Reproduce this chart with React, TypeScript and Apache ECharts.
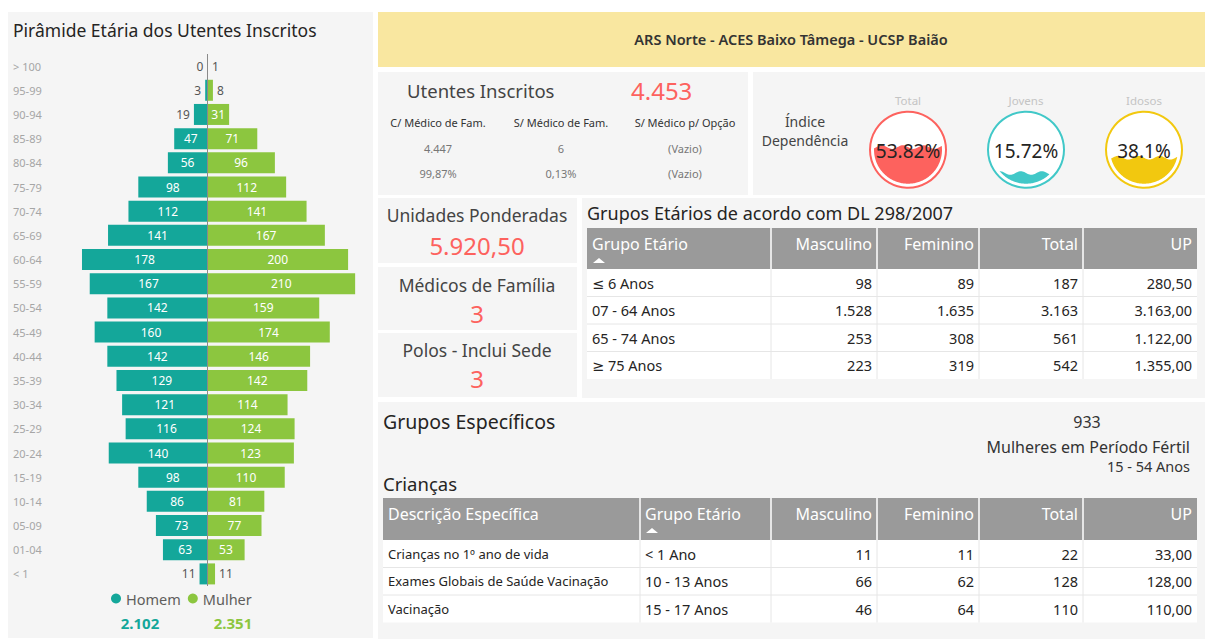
import React, { useEffect, useRef } from 'react';
import * as echarts from 'echarts';

const FONT = "'Noto Sans', 'DejaVu Sans', sans-serif";

// ---------- Pyramid data ----------
const ageGroups = ['> 100', '95-99', '90-94', '85-89', '80-84', '75-79', '70-74', '65-69', '60-64', '55-59', '50-54', '45-49', '40-44', '35-39', '30-34', '25-29', '20-24', '15-19', '10-14', '05-09', '01-04', '< 1'];
const homem = [0, 3, 19, 47, 56, 98, 112, 141, 178, 167, 142, 160, 142, 129, 121, 116, 140, 98, 86, 73, 63, 11];
const mulher = [1, 8, 31, 71, 96, 112, 141, 167, 200, 210, 159, 174, 146, 142, 114, 124, 123, 110, 81, 77, 53, 11];
const seriesNames = ['Homem', 'Mulher'];
const pyramidTitle = 'Pirâmide Etária dos Utentes Inscritos';

// ---------- Header / KPIs ----------
const headerTitle = 'ARS Norte - ACES Baixo Tâmega - UCSP Baião';
const utentesTitle = 'Utentes Inscritos';
const utentesTotal = 4453;
const utentesCols = ['C/ Médico de Fam.', 'S/ Médico de Fam.', 'S/ Médico p/ Opção'];
const utentesCounts = ['4.447', '6', '(Vazio)'];
const utentesPct = ['99,87%', '0,13%', '(Vazio)'];

const dependTitle = ['Índice', 'Dependência'];
const dependLabels = ['Total', 'Jovens', 'Idosos'];
const dependValues = [53.82, 15.72, 38.1];

const kpiTitles = ['Unidades Ponderadas', 'Médicos de Família', 'Polos - Inclui Sede'];
const kpiValues = ['5.920,50', '3', '3'];

// ---------- Grupos Etários table ----------
const etariosTitle = 'Grupos Etários de acordo com DL 298/2007';
const etariosHeaders = ['Grupo Etário', 'Masculino', 'Feminino', 'Total', 'UP'];
const etariosGroups = ['≤ 6 Anos', '07 - 64 Anos', '65 - 74 Anos', '≥ 75 Anos'];
const etariosMasc = [98, 1528, 253, 223];
const etariosFem = [89, 1635, 308, 319];
const etariosTotal = [187, 3163, 561, 542];
const etariosUP = [280.5, 3163, 1122, 1355];

// ---------- Grupos Específicos ----------
const especTitle = 'Grupos Específicos';
const fertilCount = 933;
const fertilLabel = 'Mulheres em Período Fértil';
const fertilRange = '15 - 54 Anos';
const criancasTitle = 'Crianças';
const criancasHeaders = ['Descrição Específica', 'Grupo Etário', 'Masculino', 'Feminino', 'Total', 'UP'];
const criancasDesc = ['Crianças no 1º ano de vida', 'Exames Globais de Saúde Vacinação', 'Vacinação'];
const criancasGroups = ['< 1 Ano', '10 - 13 Anos', '15 - 17 Anos'];
const criancasMasc = [11, 66, 46];
const criancasFem = [11, 62, 64];
const criancasTotal = [22, 128, 110];
const criancasUP = [33, 128, 110];

// ---------- Styles ----------
const C_HOMEM = '#14A79A';
const C_MULHER = '#8CC63F';
const RED = '#FD625E';
const dependColors = ['#FD625E', '#41C8C8', '#F2C80F'];
const PANEL = '#F5F5F5';
const DARK = '#252423';

function fmt(n: number, dec = 0) {
  const fixed = n.toFixed(dec);
  const [i, f] = fixed.split('.');
  const g = i.replace(/\B(?=(\d{3})+(?!\d))/g, '.');
  return f ? g + ',' + f : g;
}
const sum = (a: number[]) => a.reduce((s, v) => s + v, 0);

const T = (text: string, x: number, y: number, size: number, fill: string, align = 'left', weight: any = 'normal') => ({
  type: 'text', x, y, silent: true, z: 5,
  style: { text, fill, fontSize: size, fontFamily: FONT, fontWeight: weight, align, verticalAlign: 'middle' },
});
const R = (x: number, y: number, w: number, h: number, fill: string) => ({
  type: 'rect', silent: true, z: 0, shape: { x, y, width: w, height: h }, style: { fill },
});
const L = (x1: number, y1: number, x2: number, y2: number, stroke: string, lw = 1) => ({
  type: 'line', silent: true, z: 1, shape: { x1, y1, x2, y2 }, style: { stroke, lineWidth: lw },
});

function buildTable(edges: number[], top: number, headH: number, rowH: number, headers: string[], rows: string[][], leftCols: number, sortCol: number, bodySizes: number[], headSize: number) {
  const els: any[] = [];
  const x0 = edges[0];
  const x1 = edges[edges.length - 1];
  const nR = rows.length;
  els.push(R(x0, top, x1 - x0, headH, '#9A9A9A'));
  els.push(R(x0, top + headH, x1 - x0, rowH * nR, '#FFFFFF'));
  for (let c = 1; c < edges.length - 1; c++) {
    els.push(L(edges[c], top, edges[c], top + headH, '#FFFFFF', 1.5));
    els.push(L(edges[c], top + headH, edges[c], top + headH + rowH * nR, '#E6E6E6', 1));
  }
  for (let r = 1; r < nR; r++) {
    els.push(L(x0, top + headH + rowH * r, x1, top + headH + rowH * r, '#E6E6E6', 1));
  }
  headers.forEach((h, c) => {
    const left = c < leftCols;
    els.push(T(h, left ? edges[c] + 5 : edges[c + 1] - 5, top + 16, headSize, '#FFFFFF', left ? 'left' : 'right'));
  });
  const sc = edges[sortCol];
  els.push({
    type: 'polygon', silent: true, z: 5,
    shape: { points: [[sc + 6, top + 35], [sc + 12, top + 30], [sc + 18, top + 35]] },
    style: { fill: '#FFFFFF' },
  });
  rows.forEach((row, r) =>
    row.forEach((cell, c) => {
      const left = c < leftCols;
      els.push(T(cell, left ? edges[c] + 5 : edges[c + 1] - 5, top + headH + rowH * (r + 0.5), bodySizes[c], DARK, left ? 'left' : 'right'));
    })
  );
  return els;
}

function buildOption() {
  const graphics: any[] = [];
  // panels
  graphics.push(R(8, 12, 365, 626, PANEL));
  graphics.push(R(378, 12, 827, 55, '#F9E7A0'));
  graphics.push(R(378, 72, 370, 123, PANEL));
  graphics.push(R(753, 72, 452, 123, PANEL));
  graphics.push(R(378, 198, 199, 65, PANEL));
  graphics.push(R(378, 267, 199, 63, PANEL));
  graphics.push(R(378, 333, 199, 64, PANEL));
  graphics.push(R(582, 198, 623, 200, PANEL));
  graphics.push(R(378, 402, 827, 237, PANEL));

  // pyramid texts
  graphics.push(T(pyramidTitle, 13, 30, 17.5, DARK));
  graphics.push(T(fmt(sum(homem)), 140, 623, 15, C_HOMEM, 'center', 'bold'));
  graphics.push(T(fmt(sum(mulher)), 233, 623, 15, C_MULHER, 'center', 'bold'));

  // header
  graphics.push(T(headerTitle, 791, 39, 14.5, '#333333', 'center', 600));

  // utentes
  graphics.push(T(utentesTitle, 407, 90, 18.5, '#444444'));
  graphics.push(T(fmt(utentesTotal), 631, 90, 24, RED));
  const uc = [438, 561, 685];
  utentesCols.forEach((c, i) => {
    graphics.push(T(c, uc[i], 122, 11, '#333333', 'center'));
    graphics.push(T(utentesCounts[i], uc[i], 148, 11, '#777777', 'center'));
    graphics.push(T(utentesPct[i], uc[i], 173, 11, '#777777', 'center'));
  });

  // indice dependencia
  graphics.push(T(dependTitle[0], 805, 121, 14, '#444444', 'center'));
  graphics.push(T(dependTitle[1], 805, 140, 14, '#444444', 'center'));

  // kpis
  const ky = [[215, 245], [285, 313], [350, 378]];
  kpiTitles.forEach((t, i) => {
    graphics.push(T(t, 477, ky[i][0], 17.5, '#444444', 'center'));
    graphics.push(T(kpiValues[i], 477, ky[i][1], 24, RED, 'center'));
  });

  // grupos etarios
  graphics.push(T(etariosTitle, 587, 213, 18, DARK));
  const etRows = etariosGroups.map((g, i) => [g, fmt(etariosMasc[i]), fmt(etariosFem[i]), fmt(etariosTotal[i]), fmt(etariosUP[i], 2)]);
  graphics.push(...buildTable([587, 771, 877, 979, 1083, 1197], 228, 41, 27.5, etariosHeaders, etRows, 1, 0, [14.5, 14.5, 14.5, 14.5, 14.5], 16));

  // grupos especificos
  graphics.push(T(especTitle, 383, 421, 19.5, DARK));
  graphics.push(T(fmt(fertilCount), 1087, 422, 16, '#333333', 'center'));
  graphics.push(T(fertilLabel, 1190, 447, 16, '#333333', 'right'));
  graphics.push(T(fertilRange, 1190, 466, 14.5, '#333333', 'right'));
  graphics.push(T(criancasTitle, 383, 483, 18.5, DARK));
  const crRows = criancasDesc.map((d, i) => [d, criancasGroups[i], fmt(criancasMasc[i]), fmt(criancasFem[i]), fmt(criancasTotal[i]), fmt(criancasUP[i], 2)]);
  graphics.push(...buildTable([383, 640, 771, 877, 979, 1083, 1197], 498, 42, 27.5, criancasHeaders, crRows, 2, 1, [13, 14.5, 14.5, 14.5, 14.5, 14.5], 16));

  const OUT = 25;
  const labelBase = {
    show: true, position: 'inside', color: '#FFFFFF', fontSize: 12, fontFamily: FONT,
    formatter: (p: any) => String(Math.abs(p.value)),
  };

  return {
    animation: false,
    backgroundColor: '#FFFFFF',
    textStyle: { fontFamily: FONT },
    legend: {
      data: seriesNames, icon: 'circle', left: 106, top: 586, itemWidth: 10, itemHeight: 10, itemGap: 7,
      textStyle: { fontSize: 14.5, color: '#605E5C', fontFamily: FONT },
    },
    grid: [
      { left: 31.3, top: 54, width: 352, height: 532 },
      { left: 849, top: 115.7, width: 354, height: 68 },
    ],
    xAxis: [
      { type: 'value', gridIndex: 0, min: -250, max: 250, show: false },
      {
        type: 'category', gridIndex: 1, data: dependLabels, position: 'top',
        axisLine: { show: false }, axisTick: { show: false },
        axisLabel: { color: '#C4C4C4', fontSize: 11.5, margin: 9, fontFamily: FONT },
      },
    ],
    yAxis: [
      {
        type: 'category', gridIndex: 0, data: ageGroups, inverse: true,
        axisLine: { show: false }, axisTick: { show: false }, splitLine: { show: false },
        axisLabel: { align: 'left', margin: 18.3, color: '#A6A6A6', fontSize: 11, fontFamily: FONT },
      },
      { type: 'value', gridIndex: 1, min: 0, max: 100, show: false },
    ],
    graphic: { elements: graphics },
    series: [
      {
        name: seriesNames[0], type: 'bar', xAxisIndex: 0, yAxisIndex: 0, stack: 'p', barWidth: 21,
        itemStyle: { color: C_HOMEM }, label: labelBase, z: 3,
        data: homem.map((v) => ({ value: -v, label: v < OUT ? { position: 'left', color: '#555555', distance: 4 } : {} })),
      },
      {
        name: seriesNames[1], type: 'bar', xAxisIndex: 0, yAxisIndex: 0, stack: 'p', barWidth: 21,
        itemStyle: { color: C_MULHER }, label: labelBase, z: 3,
        data: mulher.map((v) => ({ value: v, label: v < OUT ? { position: 'right', color: '#555555', distance: 4 } : {} })),
        markLine: {
          silent: true, symbol: 'none', label: { show: false },
          lineStyle: { color: '#8A8A8A', width: 1, type: 'solid' },
          data: [{ xAxis: 0 }],
        },
      },
      {
        type: 'custom', xAxisIndex: 1, yAxisIndex: 1, coordinateSystem: 'cartesian2d', clip: false, z: 3,
        data: dependValues.map((v, i) => [i, v]),
        renderItem: (params: any, api: any) => {
          const idx = api.value(0);
          const v = api.value(1);
          const pTop = api.coord([idx, 100]);
          const pBot = api.coord([idx, 0]);
          const cx = pTop[0];
          const r = (pBot[1] - pTop[1]) / 2;
          const cy = pTop[1] + r;
          const level = api.coord([idx, v])[1];
          const color = dependColors[params.dataIndex];
          const N = 120;
          const topPts: number[][] = [];
          const botPts: number[][] = [];
          for (let k = 0; k <= N; k++) {
            const t = (Math.PI * k) / N;
            const x = cx - r * Math.cos(t);
            const half = Math.sqrt(Math.max(0, r * r - (x - cx) * (x - cx)));
            const yb = cy + half;
            const yt = cy - half;
            const yw = level + 1.8 * Math.sin(((x - cx) / 21) * 2 * Math.PI);
            topPts.push([x, Math.min(yb, Math.max(yt, yw))]);
            botPts.push([x, yb]);
          }
          const pts = topPts.concat(botPts.reverse());
          return {
            type: 'group',
            children: [
              { type: 'circle', shape: { cx, cy, r: r + 4 }, style: { fill: '#FFFFFF', stroke: color, lineWidth: 2 } },
              { type: 'polygon', shape: { points: pts }, style: { fill: color } },
              {
                type: 'text',
                style: { text: v + '%', x: cx, y: cy + 1, align: 'center', verticalAlign: 'middle', fontSize: 19, fontFamily: FONT, fill: DARK },
              },
            ],
          };
        },
      },
    ],
  };
}

export default function App() {
  const ref = useRef<HTMLDivElement>(null);
  useEffect(() => {
    document.body.style.margin = '0';
    const chart = echarts.init(ref.current as HTMLDivElement, null, { renderer: 'svg' });
    chart.setOption(buildOption() as any);
    return () => chart.dispose();
  }, []);
  return <div ref={ref} style={{ width: 1209, height: 642, background: '#FFFFFF' }} />;
}
